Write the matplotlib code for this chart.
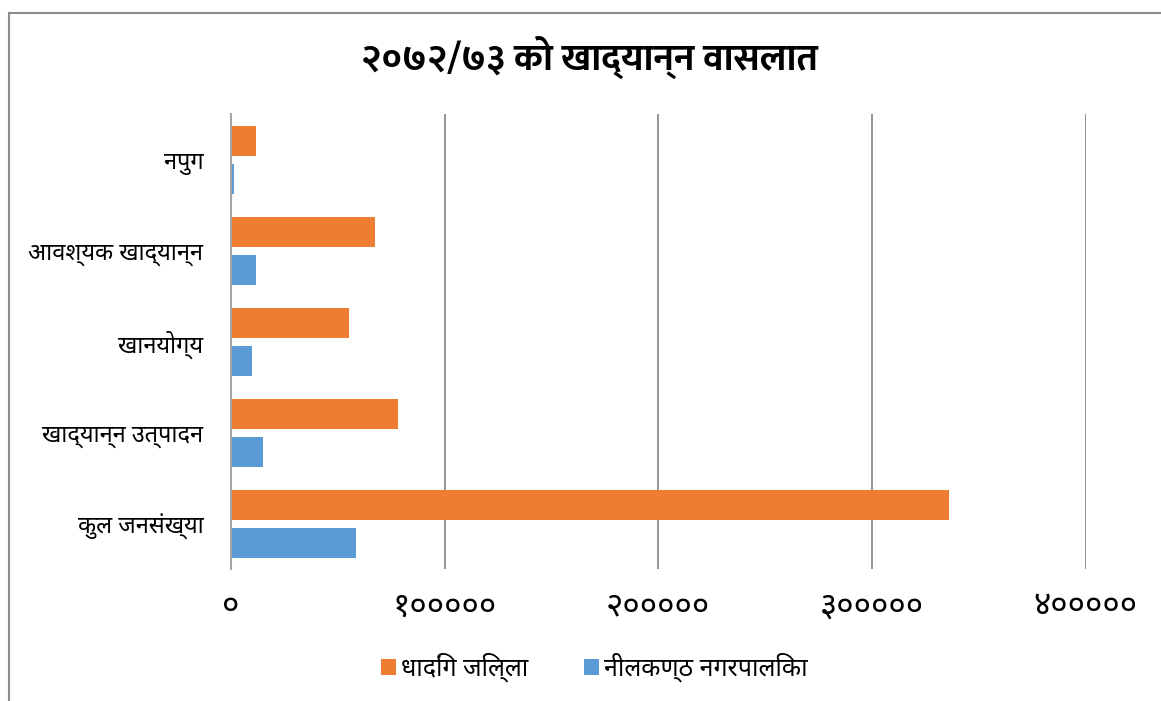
import matplotlib
matplotlib.use('Agg')
import matplotlib.pyplot as plt
import numpy as np
from matplotlib.lines import Line2D

plt.rcParams['font.family'] = ['Noto Sans Devanagari', 'Annapurna SIL', 'DejaVu Sans']

# categories, bottom to top as in the chart
categories = ['कुल जनसंख्या', 'खाद्यान्न उत्पादन', 'खानयोग्य', 'आवश्यक खाद्यान्न', 'नपुग']
dhading = [336200, 78000, 55400, 67500, 11700]
nilkantha = [58400, 15100, 9970, 11600, 1400]
series_names = ['धादिंग जिल्ला', 'नीलकण्ठ नगरपालिका']
xticks = [0, 100000, 200000, 300000, 400000]

nep_digits = str.maketrans('0123456789', '०१२३४५६७८९')
xtick_labels = [str(v).translate(nep_digits) for v in xticks]

orange = '#ED7D31'
blue = '#5B9BD5'

fig = plt.figure(figsize=(11.61, 7.01), dpi=100)
ax = fig.add_axes([0.199, 0.1876, 0.736, 0.6491])

y = np.arange(len(categories))
h = 0.33
ax.barh(y + 0.209, dhading, height=h, color=orange, label=series_names[0], zorder=3)
ax.barh(y - 0.209, nilkantha, height=h, color=blue, label=series_names[1], zorder=3)

ax.set_xlim(0, 400000)
ax.set_ylim(-0.5, len(categories) - 0.5)
ax.set_xticks(xticks)
ax.set_xticklabels(xtick_labels, fontsize=24)
ax.set_yticks(y)
ax.set_yticklabels(categories, fontsize=17)
ax.tick_params(axis='x', length=0, pad=15)
ax.tick_params(axis='y', length=0, pad=20)
ax.grid(axis='x', color='#8c8c8c', linewidth=1.3, zorder=0)
for s in ['top', 'right', 'bottom']:
    ax.spines[s].set_visible(False)
ax.spines['left'].set_color('#a6a6a6')
ax.spines['left'].set_linewidth(1.5)
ax.spines['left'].set_zorder(4)

fig.text(0.508, 0.918, '२०७२/७३ को खाद्यान्न वासलात', ha='center', va='center',
         fontsize=27, fontweight='bold', family=['Ek Mukta', 'Noto Sans Devanagari'])

fig.legend(loc='center', bbox_to_anchor=(0.512, 0.048), ncol=2, frameon=False,
           fontsize=18, handlelength=0.6, handleheight=0.6, handletextpad=0.2,
           columnspacing=2.2)

# chart frame (cropped at right and bottom)
fig.add_artist(Line2D([8.5 / 1161, 1], [1 - 12.5 / 701, 1 - 12.5 / 701],
                      transform=fig.transFigure, color='#8c8c8c', linewidth=1.5))
fig.add_artist(Line2D([8.5 / 1161, 8.5 / 1161], [0, 1 - 12.5 / 701],
                      transform=fig.transFigure, color='#8c8c8c', linewidth=1.5))

fig.savefig('out.png', dpi=100)
